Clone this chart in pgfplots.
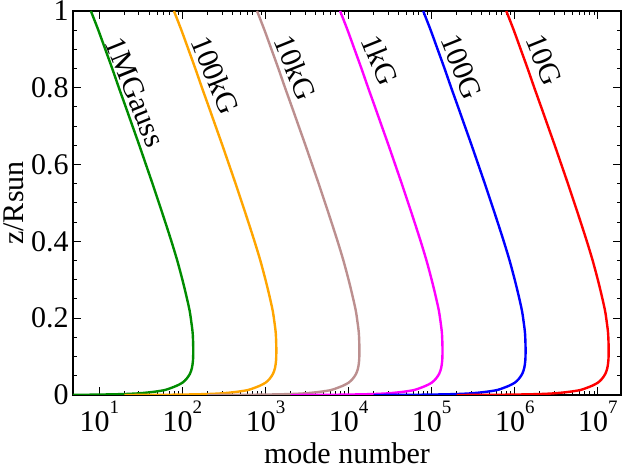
\documentclass[border=0pt]{standalone}
\usepackage{fontspec}
\setmainfont{Liberation Serif}
\usepackage{pgfplots}
\usepackage{pgfplotstable}
\pgfplotsset{compat=1.18}
\definecolor{cgreen}{RGB}{0,140,0}
\definecolor{corange}{RGB}{255,165,0}
\definecolor{cbrown}{RGB}{188,143,143}
\definecolor{cmag}{RGB}{255,0,255}
\definecolor{cblue}{RGB}{0,0,255}
\definecolor{cred}{RGB}{255,0,0}
\pgfplotstableread{
z      a       b       c       d       e       f
0      2.00e0  2.00e1  2.00e2  2.00e3  2.00e4  2.00e5
0.0003 3.98e0  3.98e1  3.98e2  3.98e3  3.98e4  3.98e5
0.0008 7.94e0  7.94e1  7.94e2  7.94e3  7.94e4  7.94e5
0.0015 1.26e1  1.26e2  1.26e3  1.26e4  1.26e5  1.26e6
0.0025 2.00e1  2.00e2  2.00e3  2.00e4  2.00e5  2.00e6
0.004  2.82e1  2.82e2  2.82e3  2.82e4  2.82e5  2.82e6
0.006  3.63e1  3.63e2  3.63e3  3.63e4  3.63e5  3.63e6
0.009  4.79e1  4.79e2  4.79e3  4.79e4  4.79e5  4.79e6
0.013  6.17e1  6.17e2  6.17e3  6.17e4  6.17e5  6.17e6
0.018  7.24e1  7.24e2  7.24e3  7.24e4  7.24e5  7.24e6
0.024  8.51e1  8.51e2  8.51e3  8.51e4  8.51e5  8.51e6
0.032  1.00e2  1.00e3  1.00e4  1.00e5  1.00e6  1.00e7
0.042  1.12e2  1.12e3  1.12e4  1.12e5  1.12e6  1.12e7
0.055  1.23e2  1.23e3  1.23e4  1.23e5  1.23e6  1.23e7
0.07   1.30e2  1.30e3  1.30e4  1.30e5  1.30e6  1.30e7
0.09   1.34e2  1.34e3  1.34e4  1.34e5  1.34e6  1.34e7
0.12   1.35e2  1.35e3  1.35e4  1.35e5  1.35e6  1.35e7
0.16   1.33e2  1.33e3  1.33e4  1.33e5  1.33e6  1.33e7
0.19   1.28e2  1.28e3  1.28e4  1.28e5  1.28e6  1.28e7
0.22   1.22e2  1.22e3  1.22e4  1.22e5  1.22e6  1.22e7
0.26   1.11e2  1.11e3  1.11e4  1.11e5  1.11e6  1.11e7
0.30   1.00e2  1.00e3  1.00e4  1.00e5  1.00e6  1.00e7
0.35   8.67e1  8.67e2  8.67e3  8.67e4  8.67e5  8.67e6
0.40   7.38e1  7.38e2  7.38e3  7.38e4  7.38e5  7.38e6
0.45   6.22e1  6.22e2  6.22e3  6.22e4  6.22e5  6.22e6
0.50   5.22e1  5.22e2  5.22e3  5.22e4  5.22e5  5.22e6
0.55   4.37e1  4.37e2  4.37e3  4.37e4  4.37e5  4.37e6
0.60   3.64e1  3.64e2  3.64e3  3.64e4  3.64e5  3.64e6
0.65   3.03e1  3.03e2  3.03e3  3.03e4  3.03e5  3.03e6
0.70   2.51e1  2.51e2  2.51e3  2.51e4  2.51e5  2.51e6
0.75   2.08e1  2.08e2  2.08e3  2.08e4  2.08e5  2.08e6
0.80   1.72e1  1.72e2  1.72e3  1.72e4  1.72e5  1.72e6
0.85   1.43e1  1.43e2  1.43e3  1.43e4  1.43e5  1.43e6
0.90   1.18e1  1.18e2  1.18e3  1.18e4  1.18e5  1.18e6
0.95   9.73e0  9.73e1  9.73e2  9.73e3  9.73e4  9.73e5
1.00   7.91e0  7.91e1  7.91e2  7.91e3  7.91e4  7.91e5
}\datatab
\newcommand{\tl}[1]{10\raisebox{9pt}{\fontsize{9.5}{11}\selectfont #1}}
\begin{document}
\begin{tikzpicture}
\fontsize{15}{18}\selectfont
\begin{axis}[
  scale only axis, width=274pt, height=192pt,
  xmode=log, xmin=4.82, xmax=1.9e7, ymin=0, ymax=1,
  xtick={10,100,1000,10000,100000,1000000,10000000},
  xticklabels={\tl{1},\tl{2},\tl{3},\tl{4},\tl{5},\tl{6},\tl{7}},
  ytick={0,0.2,0.4,0.6,0.8,1}, minor y tick num=3,
  /pgf/number format/assume math mode=true,
  tick label style={font=\fontsize{15}{18}\selectfont},
  xticklabel style={font=\fontsize{15}{18}\selectfont, inner sep=3pt},
  yticklabel style={font=\fontsize{15}{18}\selectfont, xshift=3pt},
  label style={font=\fontsize{15}{18}\selectfont},
  xlabel={mode number}, ylabel={z/Rsun},
  xlabel style={at={(axis description cs:0.5,-0.152)}, anchor=center},
  ylabel style={at={(axis description cs:-0.108,0.5)}, anchor=center},
  axis line style={line width=1pt},
  major tick length=4pt, minor tick length=2pt,
  every tick/.style={black, line width=0.5pt},
  every axis plot/.append style={line width=1.2pt, smooth},
]
\addplot[cgreen]  table[x=a, y=z] {\datatab};
\addplot[corange] table[x=b, y=z] {\datatab};
\addplot[cbrown]  table[x=c, y=z] {\datatab};
\addplot[cmag]    table[x=d, y=z] {\datatab};
\addplot[cblue]   table[x=e, y=z] {\datatab};
\addplot[cred]    table[x=f, y=z] {\datatab};
\node[rotate=-68] at (axis cs:27,0.789) {1MGauss};
\node[rotate=-68] at (axis cs:250,0.833) {100kG};
\node[rotate=-68] at (axis cs:2300,0.852) {10kG};
\node[rotate=-68] at (axis cs:24000,0.872) {1kG};
\node[rotate=-68] at (axis cs:230000,0.854) {100G};
\node[rotate=-68] at (axis cs:2250000,0.872) {10G};
\end{axis}
\pgfresetboundingbox
\useasboundingbox (-36.5pt,-37.5pt) rectangle (274.5pt,197.5pt);
\end{tikzpicture}
\end{document}
